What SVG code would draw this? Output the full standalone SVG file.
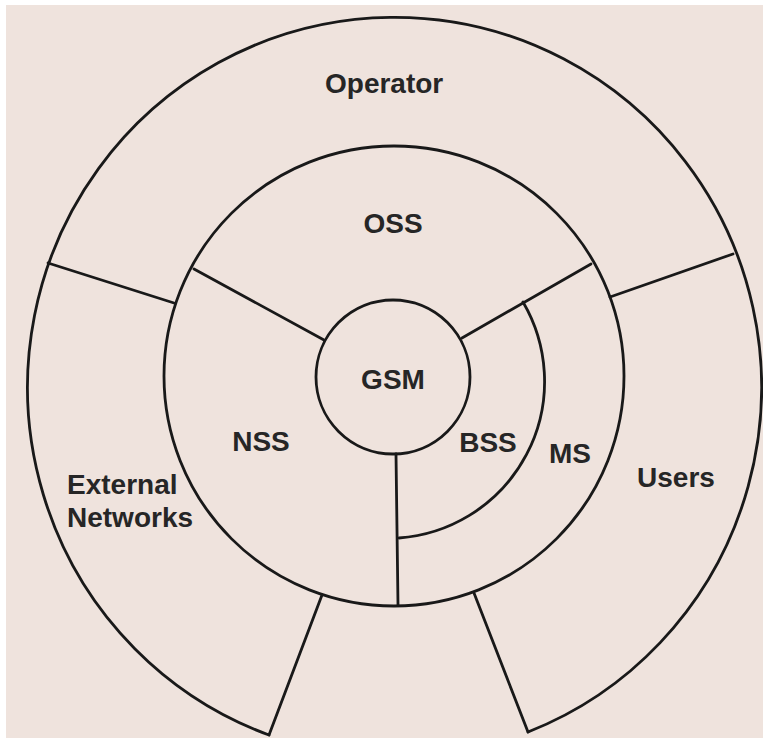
<svg xmlns="http://www.w3.org/2000/svg" width="763" height="738" viewBox="0 0 763 738">
  <style>
    .ln { fill: none; stroke: #191919; stroke-width: 2.8; stroke-linecap: round; stroke-linejoin: round; }
    .lb { font-family: "Liberation Sans", Arial, sans-serif; font-weight: bold; font-size: 28px; fill: #262626; }
    .c { text-anchor: middle; }
  </style>
  <rect x="0" y="0" width="763" height="738" fill="#ffffff"/>
  <rect x="6" y="5" width="757" height="733" fill="#efe3dd"/>

  <g id="rings">
    <path class="ln" d="M269,735 A367,370 0 1 1 528,732"/>
    <circle class="ln" cx="394" cy="376" r="230"/>
    <circle class="ln" cx="393" cy="377" r="77"/>
  </g>

  <g id="connectors">
    <line class="ln" x1="324" y1="340" x2="194" y2="269"/>
    <line class="ln" x1="462" y1="338" x2="591" y2="264"/>
    <line class="ln" x1="396" y1="454" x2="398" y2="605"/>
    <line class="ln" x1="48" y1="263" x2="174" y2="303"/>
    <line class="ln" x1="610" y1="297" x2="733" y2="254"/>
    <line class="ln" x1="322" y1="595" x2="269" y2="735"/>
    <line class="ln" x1="474" y1="593" x2="528" y2="732"/>
    <path class="ln" d="M523,302 A157,157 0 0 1 399,538"/>
  </g>

  <g id="operator"><text class="lb" x="325" y="93">Operator</text></g>
  <g id="oss"><text class="lb c" x="393" y="233">OSS</text></g>
  <g id="gsm"><text class="lb c" x="393" y="389">GSM</text></g>
  <g id="nss"><text class="lb c" x="261" y="451">NSS</text></g>
  <g id="bss"><text class="lb c" x="488" y="452">BSS</text></g>
  <g id="ms"><text class="lb c" x="570" y="463">MS</text></g>
  <g id="users"><text class="lb c" x="676" y="487">Users</text></g>
  <g id="external-networks">
    <text class="lb" x="67" y="494">External</text>
    <text class="lb" x="67" y="527">Networks</text>
  </g>
</svg>
